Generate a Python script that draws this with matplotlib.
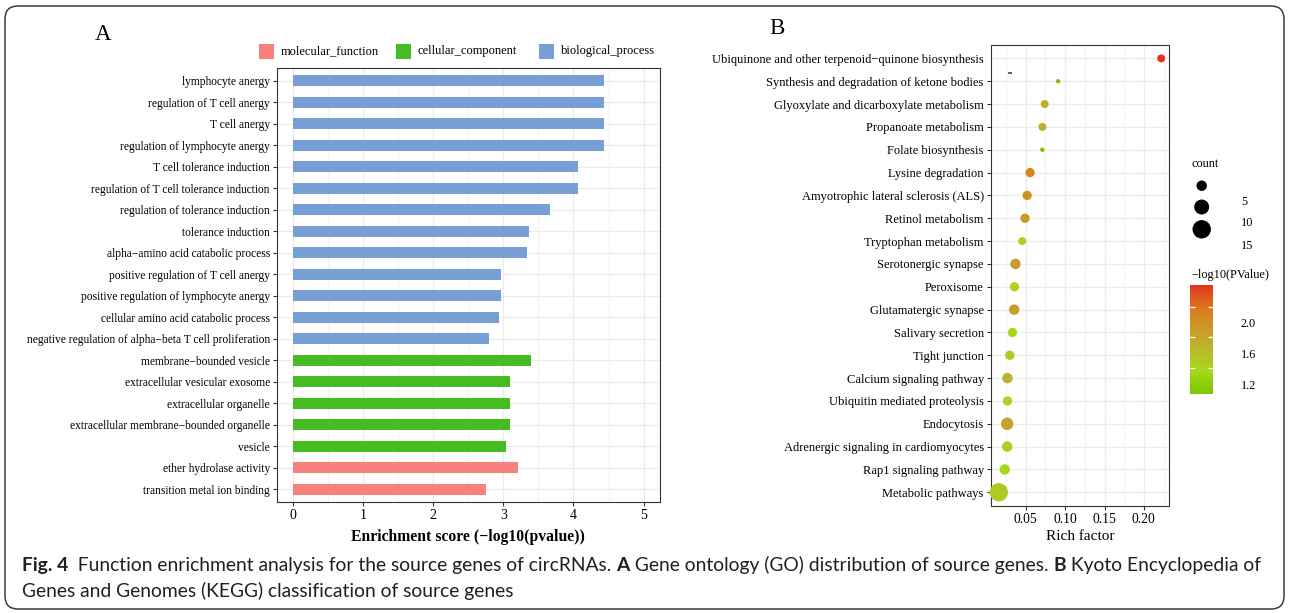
import numpy as np
import matplotlib
matplotlib.use("Agg")
import matplotlib.pyplot as plt
import matplotlib.transforms as mtransforms
from matplotlib.colors import LinearSegmentedColormap, Normalize
from matplotlib.cm import ScalarMappable
from matplotlib.patches import FancyBboxPatch, Rectangle

# ---------------------------------------------------------------- data
# Panel A: GO enrichment, listed top to bottom
go_terms = [
    "lymphocyte anergy",
    "regulation of T cell anergy",
    "T cell anergy",
    "regulation of lymphocyte anergy",
    "T cell tolerance induction",
    "regulation of T cell tolerance induction",
    "regulation of tolerance induction",
    "tolerance induction",
    "alpha\u2212amino acid catabolic process",
    "positive regulation of T cell anergy",
    "positive regulation of lymphocyte anergy",
    "cellular amino acid catabolic process",
    "negative regulation of alpha\u2212beta T cell proliferation",
    "membrane\u2212bounded vesicle",
    "extracellular vesicular exosome",
    "extracellular organelle",
    "extracellular membrane\u2212bounded organelle",
    "vesicle",
    "ether hydrolase activity",
    "transition metal ion binding",
]
go_scores = [4.43, 4.43, 4.43, 4.43, 4.06, 4.06, 3.66, 3.37, 3.33, 2.97,
             2.97, 2.94, 2.80, 3.40, 3.10, 3.10, 3.10, 3.04, 3.21, 2.75]
go_types = (["biological_process"] * 13 + ["cellular_component"] * 5
            + ["molecular_function"] * 2)
go_type_order = ["molecular_function", "cellular_component", "biological_process"]
go_type_colors = ["#F8817C", "#44BC22", "#789FD5"]
go_ticks = [0, 1, 2, 3, 4, 5]

# Panel B: KEGG pathways, listed top to bottom
kegg_terms = [
    "Ubiquinone and other terpenoid\u2212quinone biosynthesis",
    "Synthesis and degradation of ketone bodies",
    "Glyoxylate and dicarboxylate metabolism",
    "Propanoate metabolism",
    "Folate biosynthesis",
    "Lysine degradation",
    "Amyotrophic lateral sclerosis (ALS)",
    "Retinol metabolism",
    "Tryptophan metabolism",
    "Serotonergic synapse",
    "Peroxisome",
    "Glutamatergic synapse",
    "Salivary secretion",
    "Tight junction",
    "Calcium signaling pathway",
    "Ubiquitin mediated proteolysis",
    "Endocytosis",
    "Adrenergic signaling in cardiomyocytes",
    "Rap1 signaling pathway",
    "Metabolic pathways",
]
kegg_rich = [0.222, 0.091, 0.074, 0.071, 0.071, 0.0554, 0.0517, 0.049,
             0.0454, 0.0368, 0.0356, 0.0352, 0.033, 0.0297, 0.0267, 0.0267,
             0.0263, 0.0263, 0.0233, 0.0157]
kegg_count = [3, 1, 3, 3, 1, 4, 4, 4, 3, 5, 4, 5, 4, 4, 5, 4, 7, 5, 5, 15]
kegg_logp = [2.283, 0.88, 1.50, 1.50, 0.857, 1.88, 1.78, 1.72, 1.14, 1.68,
             1.21, 1.66, 1.20, 1.28, 1.46, 1.22, 1.64, 1.22, 1.17, 1.28]
kegg_ticks = [0.05, 0.10, 0.15, 0.20]
count_breaks = [5, 10, 15]
logp_breaks = [1.2, 1.6, 2.0]

# ---------------------------------------------------------------- style
W, H, DPI = 1290, 613, 100
SERIF = ["Liberation Serif", "DejaVu Serif"]
GRID = "#EBEBEB"
FRAME = "#333333"

plt.rcParams["font.family"] = SERIF
plt.rcParams["axes.linewidth"] = 0.8

fig = plt.figure(figsize=(W / DPI, H / DPI), dpi=DPI)


def box(x0, y0, x1, y1):
    """pixel box (top-left origin) -> figure fraction rect"""
    return [x0 / W, 1 - y1 / H, (x1 - x0) / W, (y1 - y0) / H]


def fx(x):
    return x / W


def fy(y):
    return 1 - y / H


def style_axes(ax):
    for sp in ax.spines.values():
        sp.set_color(FRAME)
        sp.set_linewidth(0.8)
    ax.tick_params(axis="both", which="major", length=3.0, width=0.8,
                   color=FRAME, labelcolor="black", pad=2)
    ax.tick_params(axis="both", which="minor", length=0)
    ax.grid(True, which="major", color=GRID, lw=0.9)
    ax.grid(True, which="minor", axis="x", color=GRID, lw=0.45)
    ax.set_axisbelow(True)


# ---------------------------------------------------------------- panel A
axA = fig.add_axes(box(276.7, 67.7, 659.7, 502.3))
n_go = len(go_terms)
ypos = np.arange(n_go)
type_color = dict(zip(go_type_order, go_type_colors))
axA.barh(ypos, go_scores, height=0.5,
         color=[type_color[t] for t in go_types], zorder=2)
axA.set_xlim(-0.235, 5.23)
axA.set_ylim(n_go - 1 + 0.6, -0.6)
axA.set_xticks(go_ticks)
axA.set_xticks(np.array(go_ticks[:-1]) + 0.5, minor=True)
axA.set_yticks(ypos)
axA.set_yticklabels(go_terms, fontsize=8.3)
axA.tick_params(axis="x", labelsize=10)
style_axes(axA)
axA.set_xlabel("Enrichment score (\u2212log10(pvalue))", fontsize=11.3,
               fontweight="bold", labelpad=5)

# legend row above panel A
leg_x = [259, 396, 539]
for x0, name, col in zip(leg_x, go_type_order, go_type_colors):
    fig.add_artist(Rectangle((fx(x0), fy(58.5)), 14.5 / W, 14.5 / H,
                             transform=fig.transFigure, color=col, lw=0))
    fig.text(fx(x0 + 22), fy(51), name, fontsize=9, va="center", ha="left")

fig.text(fx(95), fy(34), "A", fontsize=16.5, va="center", ha="left")
fig.text(fx(769), fy(28), "B", fontsize=16.5, va="center", ha="left")

# ---------------------------------------------------------------- panel B
axB = fig.add_axes(box(990.7, 44.7, 1169.3, 506))
n_k = len(kegg_terms)
kpos = np.arange(n_k)

cmap = LinearSegmentedColormap.from_list(
    "pv", [(0.0, "#7CC400"), (0.22, "#A8D81E"), (0.42, "#BBB52A"),
           (0.56, "#C6A02A"), (0.74, "#D6841F"), (0.88, "#DE5C1E"),
           (1.0, "#E2351C")])
norm = Normalize(vmin=min(kegg_logp), vmax=max(kegg_logp))


def dot_size(c):
    d_px = 4.85 * np.sqrt(np.asarray(c, float)) - 0.4
    return (d_px * 72.0 / DPI) ** 2


axB.scatter(kegg_rich, kpos, s=dot_size(kegg_count),
            c=kegg_logp, cmap=cmap, norm=norm, linewidths=0, zorder=3,
            clip_on=False)
rng = max(kegg_rich) - min(kegg_rich)
axB.set_xlim(min(kegg_rich) - 0.05 * rng, max(kegg_rich) + 0.05 * rng)
axB.set_ylim(n_k - 1 + 0.6, -0.6)
axB.set_xticks(kegg_ticks)
axB.set_xticks([0.025, 0.075, 0.125, 0.175, 0.225], minor=True)
axB.set_xticklabels([f"{t:.2f}" for t in kegg_ticks])
axB.set_yticks(kpos)
axB.set_yticklabels(kegg_terms, fontsize=9.0)
axB.tick_params(axis="x", labelsize=9.8)
style_axes(axB)
axB.yaxis.get_major_ticks()[0].tick1line.set_visible(False)
axB.plot([0.097, 0.119], [0.938, 0.938], transform=axB.transAxes,
         color=FRAME, lw=1.1, solid_capstyle="butt", zorder=4)
axB.set_xlabel("Rich factor", fontsize=11, labelpad=3)

# count legend
fig.text(fx(1191), fy(164), "count", fontsize=8.8, va="center", ha="left")
legA = fig.add_axes(box(1185, 175, 1265, 255))
legA.set_xlim(1185, 1265)
legA.set_ylim(255, 175)
legA.axis("off")
leg_y = [185.7, 207.0, 229.3]
legA.scatter([1201.7] * len(count_breaks), leg_y, s=dot_size(count_breaks),
             color="black", linewidths=0, clip_on=False)
for yy, c in zip(leg_y, count_breaks):
    legA.text(1241, yy + 16.3, str(c), fontsize=8.8, va="center", ha="left")

# colour bar
fig.text(fx(1191), fy(275), "\u2212log10(PValue)", fontsize=8.8,
         va="center", ha="left")
cax = fig.add_axes(box(1190, 285, 1212.7, 394.3))
cb = fig.colorbar(ScalarMappable(norm=norm, cmap=cmap), cax=cax)
cb.outline.set_visible(False)
cb.set_ticks(logp_breaks)
cb.set_ticklabels([f"{b:.1f}" for b in logp_breaks])
cax.tick_params(length=0, pad=20, labelsize=8.8)
shift = mtransforms.ScaledTranslation(0, -16.3 / DPI, fig.dpi_scale_trans)
for lab in cax.get_yticklabels():
    lab.set_transform(lab.get_transform() + shift)
ytr = cax.get_yaxis_transform()
cax.hlines(logp_breaks, 0, 0.2, transform=ytr, color="white", lw=0.9)
cax.hlines(logp_breaks, 0.8, 1, transform=ytr, color="white", lw=0.9)

# ---------------------------------------------------------------- caption
CAP = ["Liberation Sans Narrow", "Lato", "DejaVu Sans"]
renderer = fig.canvas.get_renderer()


def seg_width(s, size, weight):
    t1 = fig.text(0, 0, s + "|", fontsize=size, fontweight=weight, family=CAP)
    t2 = fig.text(0, 0, "|", fontsize=size, fontweight=weight, family=CAP)
    w = t1.get_window_extent(renderer).width - t2.get_window_extent(renderer).width
    t1.remove()
    t2.remove()
    return w


line1 = [("Fig. 4", "bold"),
         ("  Function enrichment analysis for the source genes of circRNAs. ", "normal"),
         ("A", "bold"),
         (" Gene ontology (GO) distribution of source genes. ", "normal"),
         ("B", "bold"),
         (" Kyoto Encyclopedia of", "normal")]
line2 = [("Genes and Genomes (KEGG) classification of source genes", "normal")]

base = 10.0
w_base = sum(seg_width(s, base, wt) for s, wt in line1)
cap_size = base * (1265 - 22) / w_base


def draw_line(segs, x0, yb):
    x = x0
    for s, wt in segs:
        fig.text(fx(x), fy(yb), s, fontsize=cap_size, fontweight=wt,
                 family=CAP, va="baseline", ha="left", color="#231F20")
        x += seg_width(s, cap_size, wt)


draw_line(line1, 22, 571)
draw_line(line2, 22, 597)

# rounded frame around the figure
fig.add_artist(FancyBboxPatch((5, 4), 1279, 603,
                              boxstyle="round,pad=0,rounding_size=13",
                              transform=None, fc="none", ec="#3A3A3A", lw=1.1))

fig.savefig("out.png", dpi=DPI)
